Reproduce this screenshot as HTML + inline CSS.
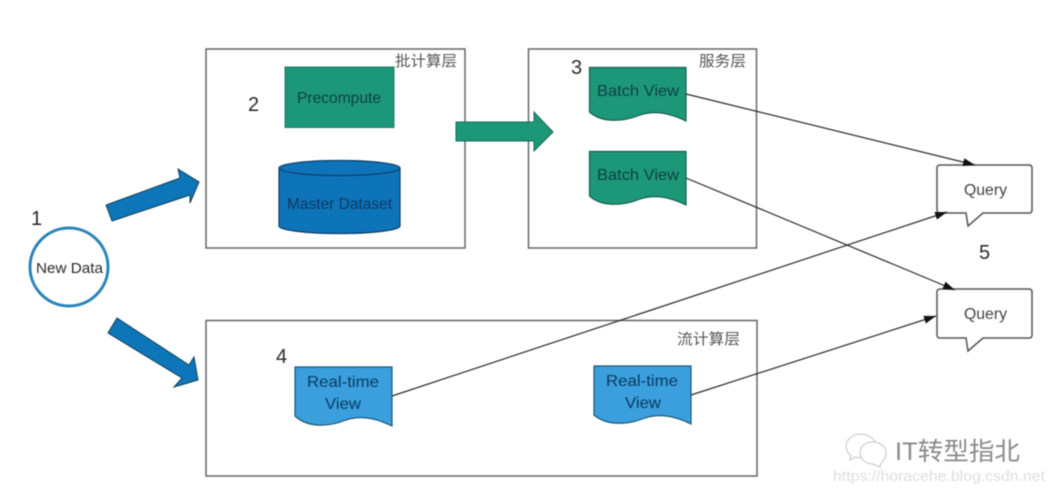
<!DOCTYPE html>
<html><head><meta charset="utf-8"><style>
html,body{margin:0;padding:0;background:#fff;width:1055px;height:494px;overflow:hidden}
svg{display:block;filter:blur(.45px)}
text{font-family:"Liberation Sans","Noto Sans CJK SC",sans-serif;fill:#2a2a2a}
.d{fill:#0f3f45}
.b{fill:#0b3a62}
.c{fill:#555;font-size:15px}
</style></head><body>
<svg width="1055" height="494" viewBox="0 0 1055 494" xmlns="http://www.w3.org/2000/svg">
<defs><marker id="a" markerWidth="14" markerHeight="9" refX="12" refY="4" orient="auto" markerUnits="userSpaceOnUse"><path d="M0 0L12 4L0 8Z" fill="#111"/></marker></defs>
<rect x="206" y="49" width="259" height="199" fill="#fff" stroke="#666" stroke-width="1.500"/>
<rect x="528.500" y="49" width="228" height="199" fill="#fff" stroke="#666" stroke-width="1.500"/>
<rect x="206" y="320.500" width="551" height="155.500" fill="#fff" stroke="#666" stroke-width="1.500"/>
<text x="395" y="66" class="c" textLength="62" lengthAdjust="spacingAndGlyphs">批计算层</text>
<text x="699" y="66" class="c" textLength="47" lengthAdjust="spacingAndGlyphs">服务层</text>
<text x="677" y="344" class="c" textLength="63" lengthAdjust="spacingAndGlyphs">流计算层</text>

<circle cx="69" cy="267" r="39" fill="#fff" stroke="#2a84b8" stroke-width="3"/>
<text x="36" y="273" font-size="15" textLength="67" lengthAdjust="spacingAndGlyphs">New Data</text>
<text x="31" y="225" font-size="20">1</text>
<text x="248" y="111" font-size="20">2</text>
<text x="571" y="74" font-size="20">3</text>
<text x="276" y="363" font-size="20">4</text>
<text x="979" y="259" font-size="20">5</text>

<path d="M106 205L112 221L190 195L190 203L199 182L178 169L180 178Z" fill="#0d76b8" stroke="#103f5c"/>
<path d="M117 318L108 333L182 378L174 387L198 380L194 357L189 365Z" fill="#0d76b8" stroke="#103f5c"/>

<rect x="285" y="67" width="109" height="60.500" fill="#1c9879" stroke="#2a7a68"/>
<text x="297" y="103" font-size="16" class="d" textLength="84" lengthAdjust="spacingAndGlyphs">Precompute</text>
<path d="M279 168V226C279 230 305 233.500 339.500 233.500S400 230 400 226V168Z" fill="#0e74ba" stroke="#0c3d66" stroke-width="1.200"/>
<ellipse cx="339.500" cy="168" rx="60.500" ry="7.500" fill="#0e74ba" stroke="#0c3d66" stroke-width="1.200"/>
<text x="287" y="209" font-size="16" class="b" textLength="105" lengthAdjust="spacingAndGlyphs">Master Dataset</text>

<path d="M456 122H534V112L553 132L534 151V141H456Z" fill="#1c9879" stroke="#156a58"/>

<path d="M589.500 67.500H686V121C670 113 655 110 640 115C625 121 603 124 589.500 112Z" fill="#1c9879" stroke="#155f50" stroke-width="1.200"/>
<text x="597" y="96" font-size="16" class="d" textLength="82" lengthAdjust="spacingAndGlyphs">Batch View</text>
<path d="M589.500 151.500H686V205C670 197 655 194 640 199C625 205 603 208 589.500 196Z" fill="#1c9879" stroke="#155f50" stroke-width="1.200"/>
<text x="597" y="180" font-size="16" class="d" textLength="82" lengthAdjust="spacingAndGlyphs">Batch View</text>

<path d="M295 367H392V426C376 418 361 415 346 420C331 426 309 429 295 416Z" fill="#3a9fdc" stroke="#1c5a78" stroke-width="1.200"/>
<text x="307" y="387" font-size="16" class="b" textLength="72" lengthAdjust="spacingAndGlyphs">Real-time</text>
<text x="325" y="409" font-size="16" class="b" textLength="36" lengthAdjust="spacingAndGlyphs">View</text>
<path d="M594 366H691V424C675 416 660 413 645 418C630 424 608 427 594 415Z" fill="#3a9fdc" stroke="#1c5a78" stroke-width="1.200"/>
<text x="606" y="386" font-size="16" class="b" textLength="72" lengthAdjust="spacingAndGlyphs">Real-time</text>
<text x="625" y="408" font-size="16" class="b" textLength="36" lengthAdjust="spacingAndGlyphs">View</text>

<path d="M940 165H1029Q1032 165 1032 168V210Q1032 213 1029 213H983L968 226L966 213H940Q937 213 937 210V168Q937 165 940 165Z" fill="#fff" stroke="#555" stroke-width="1.500"/>
<text x="964" y="195" font-size="15.500" style="fill:#444" textLength="43" lengthAdjust="spacingAndGlyphs">Query</text>
<path d="M940 289H1029Q1032 289 1032 292V335Q1032 338 1029 338H983L968 351L966 338H940Q937 338 937 335V292Q937 289 940 289Z" fill="#fff" stroke="#555" stroke-width="1.500"/>
<text x="964" y="319" font-size="15.500" style="fill:#444" textLength="43" lengthAdjust="spacingAndGlyphs">Query</text>

<g stroke="#2a2a2a" stroke-width="1.200" fill="none">
<path d="M686 94L975 165" marker-end="url(#a)"/>
<path d="M686 178L955 290" marker-end="url(#a)"/>
<path d="M392 396L947 212" marker-end="url(#a)"/>
<path d="M691 395L936 316" marker-end="url(#a)"/>
</g>

<g fill="#fff" stroke="#c4c4c4">
<path d="M861 434C852 434 846 440 846 446C846 451 849 454 851 456L850 460L855 457C858 458 861 458 864 458L878 450C877 441 870 434 861 434Z"/>
<path d="M873 442C865 442 860 447 860 453C860 459 866 464 873 464L880 467L881 463C884 461 886 457 886 453C886 447 881 442 873 442Z"/>
</g>
<text x="895" y="460" font-size="25" textLength="125" lengthAdjust="spacingAndGlyphs" style="fill:#8a8a8a">IT转型指北</text>
<text x="833" y="481" font-size="15" textLength="212" lengthAdjust="spacingAndGlyphs" style="fill:#dedede">https://horacehe.blog.csdn.net</text>
</svg>
</body></html>
